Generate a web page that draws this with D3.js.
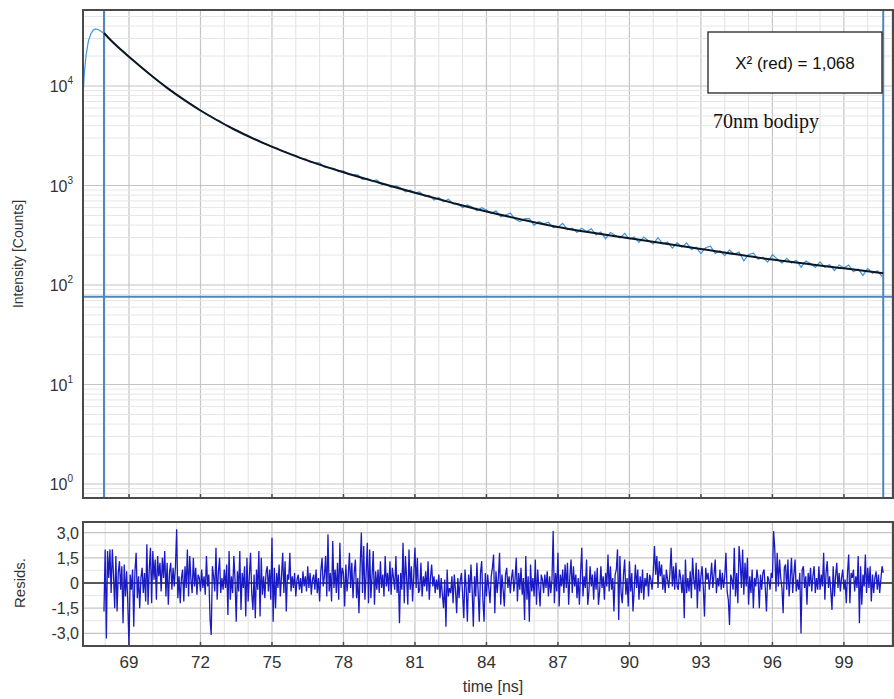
<!DOCTYPE html>
<html>
<head>
<meta charset="utf-8">
<script src="https://cdn.jsdelivr.net/npm/d3@7"></script>
<style>
  body { margin: 0; background: #fff; }
  svg { display: block; }
  text { font-family: "Liberation Sans", Arial, sans-serif; fill: #333; }
</style>
</head>
<body>
<div id="chart"></div>
<script>
// ---- data ----
// fitted decay (black line), knots in ns / counts
const fitTimes  = [67.95, 68.3, 69.17, 70.0, 70.6, 71.3, 72.0, 73.36, 74.79, 76.18, 78.0, 79.5, 81.0, 82.5, 84.0, 87.0, 90.0, 93.0, 96.0, 99.0, 100.65];
const fitCounts = [34120, 27890, 18135, 12375, 9583, 7288, 5675, 3719, 2572, 1897, 1357, 1065, 845, 677, 549, 383, 295, 230, 180, 147, 131];

// measured curve (light blue): rising edge
const riseTimes  = [67.07, 67.12, 67.2, 67.3, 67.4, 67.5, 67.6, 67.7, 67.8, 67.9];
const riseCounts = [7700, 13000, 20500, 28500, 33500, 36500, 37500, 37000, 35800, 34500];
// measured curve: decay channels, every 0.2 ns from 68.0 ns
const decayStart = 68.0, decayStep = 0.2;
const decayCounts = [
  33300, 29400, 26800, 23900, 22000, 19700, 18100, 16300, 15000, 13500,
  12450, 11300, 10480, 9520, 8870, 8160, 7640, 7020, 6610, 6080,
  5720, 5300, 5030, 4660, 4460, 4130, 3930, 3660, 3520, 3290,
  3180, 2970, 2870, 2680, 2590, 2440, 2380, 2230, 2170, 2050,
  2010, 1870, 1850, 1720, 1700, 1690, 1530, 1500, 1490, 1380,
  1400, 1290, 1280, 1280, 1155, 1176, 1105, 1135, 1028, 1027,
  956, 995, 946, 863, 897, 837, 862, 781, 797, 713,
  758, 687, 729, 655, 657, 599, 639, 609, 557, 598,
  568, 522, 557, 484, 502, 529, 460, 435, 462, 465,
  397, 435, 412, 427, 378, 381, 416, 361, 372, 337,
  371, 344, 368, 318, 340, 292, 337, 316, 296, 330,
  288, 304, 268, 303, 278, 259, 299, 259, 270, 235,
  266, 240, 265, 228, 239, 207, 237, 245, 208, 221,
  197, 225, 203, 214, 175, 203, 209, 181, 190, 170,
  202, 183, 166, 185, 166, 177, 151, 174, 164, 150,
  171, 151, 160, 140, 159, 148, 159, 136, 145, 125,
  147, 131, 139, 122
];

// weighted residuals, every 0.05 ns from 67.95 ns
const residStart = 67.95, residStep = 0.05;
const resids = [
  -1.7, 2.0, -3.3, 1.9, 0.3, 2.0, -0.6, 2.0, 0.5, -1.5,
  1.6, -1.7, 0.6, 1.3, -0.4, 1.0, -2.4, 1.1, -0.8, 0.7,
  -1.2, -3.8, 0.5, -0.4, 0.8, -2.6, 0.7, 1.8, -0.9, 0.4,
  -1.5, 0.3, 0.9, -0.6, 0.6, -1.1, 2.3, -1.3, 0.8, 2.1,
  -1.2, 1.9, 0.2, 1.4, -1.0, 1.6, 0.4, 1.2, -0.5, 1.5,
  0.3, 1.9, -0.8, 1.2, -1.3, 0.6, 1.2, -0.4, 0.9, -0.2,
  1.0, 3.2, -0.9, 0.4, -1.2, 0.3, 0.8, -1.1, 1.0, -0.3,
  2.0, -0.8, 1.6, 0.2, -0.6, 1.5, -0.2, 0.9, -0.7, 0.5,
  0.3, -0.5, 0.8, -0.3, 0.4, -0.7, 1.6, -0.2, 0.5, -2.1,
  -3.1, 1.0, 0.4, -0.5, 2.1, -1.0, 0.6, 1.5, -0.6, 0.3,
  -0.4, 0.8, -0.3, 1.1, -1.9, 1.9, -1.0, 0.4, -0.6, 1.6,
  0.2, -2.3, 0.7, -0.5, 1.9, -1.6, 0.6, -0.3, 1.0, -2.0,
  1.5, -1.1, 0.4, 1.8, -0.6, -1.6, 0.5, -2.1, 0.8, -0.4,
  1.9, -2.0, 1.5, -0.7, 0.4, -0.9, 0.6, 1.0, -0.5, 0.8,
  -1.0, 2.7, -2.3, 0.9, -1.5, 0.6, -0.3, 1.1, -0.8, 0.4,
  1.8, -0.6, 1.3, -1.7, 0.5, 0.2, 1.8, -0.5, 0.4, -0.3,
  0.6, -0.8, 0.2, 0.5, -0.4, 0.3, -0.6, 0.7, -0.2, 0.4,
  -0.5, 1.0, -0.3, 0.6, -0.7, 0.2, 0.5, -0.4, 0.8, -0.6,
  0.3, -1.1, 0.7, 1.5, -0.2, 0.4, 1.6, -0.8, 2.9, -0.5,
  0.6, -1.1, 2.5, -0.3, 0.8, -0.6, 1.2, -1.0, 2.4, -0.3,
  0.9, 0.6, -1.4, 1.1, -0.5, 0.4, 1.8, -0.3, 1.2, -0.9,
  0.6, 1.4, -0.9, 0.3, -1.8, 1.0, 3.0, -0.6, 2.2, -1.0,
  0.5, 2.4, -1.2, 2.0, -0.9, 0.4, 1.9, -1.3, 0.7, -0.4,
  0.8, -0.6, 1.3, -0.3, 0.5, -0.8, 1.6, -0.2, 0.6, -0.5,
  1.3, -0.7, 0.9, 0.3, -0.4, 1.6, -0.6, 0.5, -2.4, 0.6,
  -0.4, 2.4, -1.2, 1.6, 0.3, -1.3, 2.0, -0.4, 1.0, -1.1,
  0.5, 2.1, -0.3, 1.5, -0.6, -0.4, 1.2, -0.8, 0.4, -0.2,
  0.7, -0.5, 1.3, -1.0, 0.3, 1.1, -0.2, 0.4, -0.6, 0.2,
  -0.4, 0.5, -0.9, 0.3, -0.7, -1.5, 0.2, -2.6, 0.8, -0.8,
  -0.3, -0.6, 0.4, -1.2, 0.5, -0.4, -1.8, 0.3, -0.9, 0.1,
  0.6, -0.7, -2.1, 0.8, -0.3, -2.3, 0.5, -0.6, 1.1, -0.4,
  -2.6, 0.4, -0.8, 1.2, -0.5, -2.3, 0.6, 1.3, -1.0, -2.3,
  0.6, -0.8, 0.5, -0.3, -1.2, 0.4, 0.9, 1.7, -1.8, 0.7,
  -0.6, 0.3, 1.8, -1.3, 0.5, -0.4, -1.4, 0.5, 0.9, -0.3,
  0.4, -0.6, 0.3, 0.8, -0.5, 0.2, 1.5, -1.1, 0.6, -0.4,
  0.9, -0.7, 0.3, -2.2, 1.6, -1.0, 0.4, -2.3, 1.1, -0.5,
  0.3, -0.8, 1.4, -1.3, 0.8, -0.3, -1.4, 0.5, 0.2, -0.6,
  0.5, -0.3, 0.7, -0.8, 0.4, -0.6, 0.2, 3.1, -1.2, 0.6,
  -0.5, 1.8, -1.4, 0.5, -0.2, 0.8, -0.6, 1.1, -0.3, 1.2,
  -1.3, 0.4, 1.4, -0.6, 1.0, -0.2, 0.5, -0.9, 0.3, -1.3,
  0.6, 2.1, -0.8, 0.4, -0.3, 1.4, -1.3, -0.5, 1.0, -0.2,
  0.5, -1.0, 0.7, -0.4, 0.9, -1.3, -0.5, 1.0, -0.3, 0.4,
  -1.0, 0.6, -0.2, 1.7, -0.5, 1.0, -0.4, 0.3, -1.7, 0.5,
  0.8, 2.0, -2.2, 1.6, -0.6, -1.2, 0.5, 1.4, -0.7, 0.3,
  -1.4, 1.3, -0.5, 0.6, -1.7, -0.4, 1.1, -0.3, 0.8, -1.0,
  0.4, -0.6, 0.8, -1.0, 0.3, -0.2, 0.6, -0.8, 0.5, 0.2,
  -0.4, 0.7, 2.2, 0.5, 1.6, -0.3, 1.3, 0.4, 1.1, -0.4,
  0.5, -0.6, 0.8, 0.2, -0.3, 0.6, 2.1, -0.2, 1.0, -0.4,
  1.2, -0.2, -0.4, 0.8, 0.3, -0.6, 0.5, -2.1, 1.4, -0.6,
  0.3, -0.5, 0.7, -0.9, 1.5, 0.2, -0.4, 1.2, -1.5, 0.8,
  -0.5, 0.4, 1.0, -0.3, -2.0, 0.9, 0.2, 0.6, -0.4, 0.3,
  1.2, -0.3, 0.5, 1.4, -0.6, 0.3, -0.2, 0.8, -0.4, 0.6,
  -0.3, 0.4, 1.8, -0.5, -1.0, -2.5, 0.5, 0.2, -0.4, 2.1,
  -0.8, 0.6, -1.2, 2.2, 1.2, -0.3, 2.0, -0.7, 1.2, -0.2,
  1.5, -1.3, 0.4, -0.6, 0.8, -1.5, 0.3, -0.2, 0.8, 0.2,
  -1.5, 0.5, -0.4, 0.6, 0.8, -0.3, -1.7, 0.4, 0.2, -0.4,
  0.6, 0.3, 3.1, 2.0, -0.5, 1.8, -0.2, 1.4, 0.3, -0.3,
  -1.8, 0.9, 1.1, -0.4, 1.4, -0.8, 0.3, 1.5, -0.6, 0.5,
  1.4, -0.5, 0.2, -0.4, 0.6, -3.0, 0.8, 1.0, -0.3, 0.4,
  -1.3, 0.6, -0.2, 0.9, -0.5, 0.4, 1.0, -0.6, 0.3, -0.4,
  1.0, -0.4, 0.5, -0.2, 1.8, -1.0, 0.6, 1.3, -0.3, 0.4,
  -0.5, -1.6, 1.0, -0.8, 0.4, 1.2, -0.3, 0.6, -0.5, 0.3,
  0.8, -0.4, 0.2, -1.2, 0.6, 1.7, -1.2, 0.6, 0.3, 0.8,
  -0.5, 0.4, -0.3, 1.6, -2.4, 1.0, -1.3, 0.5, -0.2, 1.7,
  -0.6, 0.9, -0.3, 1.0, -1.1, 0.5, -0.6, 0.3, 0.7, -0.4,
  0.5, -0.6, 0.2, 1.0, 0.6
];

const xTicks = [69, 72, 75, 78, 81, 84, 87, 90, 93, 96, 99];
const decadeExps = [0, 1, 2, 3, 4];
const residTicks = [-3, -1.5, 0, 1.5, 3];
const cursorTimes = [67.95, 100.65];
const cursorLevel = 76;
const chiLabel = "X\u00b2 (red) = 1,068";
const sampleLabel = "70nm bodipy";

// ---- layout ----
const width = 894, height = 699;
const mainP = {x0: 83, x1: 893, y0: 10, y1: 498};
const resP = {y0: 522, y1: 646};

const svg = d3.select("#chart").append("svg")
    .attr("width", width)
    .attr("height", height);

let x = d3.scaleLinear().domain([67.07, 101.06]).range([mainP.x0, mainP.x1]);
let yLog = d3.scaleLog().domain([0.7234, 58050]).range([mainP.y1, mainP.y0]);
let yRes = d3.scaleLinear().domain([-3.75, 3.631]).range([resP.y1, resP.y0]);

let defs = svg.append("defs");
defs.append("clipPath").attr("id", "clipTop").append("rect")
    .attr("x", mainP.x0).attr("y", mainP.y0)
    .attr("width", mainP.x1 - mainP.x0).attr("height", mainP.y1 - mainP.y0);
defs.append("clipPath").attr("id", "clipBot").append("rect")
    .attr("x", mainP.x0).attr("y", resP.y0)
    .attr("width", mainP.x1 - mainP.x0).attr("height", resP.y1 - resP.y0);

// vertical grid (1 ns minor, 3 ns major) in both panels
let minorX = d3.range(68, 102).filter(d => xTicks.indexOf(d) < 0);
[[mainP.y0, mainP.y1], [resP.y0, resP.y1]].forEach(function(p) {
    svg.append("g").selectAll("line").data(minorX).enter().append("line")
        .attr("x1", d => x(d)).attr("x2", d => x(d))
        .attr("y1", p[0]).attr("y2", p[1])
        .attr("stroke", "#e2e2e2").attr("stroke-width", 1);
    svg.append("g").selectAll("line").data(xTicks).enter().append("line")
        .attr("x1", d => x(d)).attr("x2", d => x(d))
        .attr("y1", p[0]).attr("y2", p[1])
        .attr("stroke", "#c4c4c4").attr("stroke-width", 1.2);
});

// horizontal log grid
let minorY = [];
[-1, 0, 1, 2, 3, 4].forEach(function(e) {
    d3.range(2, 10).forEach(function(m) {
        let v = m * Math.pow(10, e);
        if (v > yLog.domain()[0] && v < yLog.domain()[1]) minorY.push(v);
    });
});
svg.append("g").selectAll("line").data(minorY).enter().append("line")
    .attr("x1", mainP.x0).attr("x2", mainP.x1)
    .attr("y1", d => yLog(d)).attr("y2", d => yLog(d))
    .attr("stroke", "#e6e6e6").attr("stroke-width", 1);
svg.append("g").selectAll("line").data(decadeExps).enter().append("line")
    .attr("x1", mainP.x0).attr("x2", mainP.x1)
    .attr("y1", d => yLog(Math.pow(10, d))).attr("y2", d => yLog(Math.pow(10, d)))
    .attr("stroke", "#c4c4c4").attr("stroke-width", 1.2);

// residual grid
let residMinor = [-2.25, -0.75, 0.75, 2.25];
svg.append("g").selectAll("line").data(residMinor).enter().append("line")
    .attr("x1", mainP.x0).attr("x2", mainP.x1)
    .attr("y1", d => yRes(d)).attr("y2", d => yRes(d))
    .attr("stroke", "#e6e6e6").attr("stroke-width", 1);
svg.append("g").selectAll("line").data(residTicks.filter(d => d !== 0)).enter().append("line")
    .attr("x1", mainP.x0).attr("x2", mainP.x1)
    .attr("y1", d => yRes(d)).attr("y2", d => yRes(d))
    .attr("stroke", "#c4c4c4").attr("stroke-width", 1.2);

// cursors
let cursorColor = "#4f87b8";
svg.append("g").selectAll("line").data(cursorTimes).enter().append("line")
    .attr("x1", d => x(d)).attr("x2", d => x(d))
    .attr("y1", mainP.y0).attr("y2", mainP.y1)
    .attr("stroke", cursorColor).attr("stroke-width", 2);
svg.append("line")
    .attr("x1", mainP.x0).attr("x2", mainP.x1)
    .attr("y1", yLog(cursorLevel)).attr("y2", yLog(cursorLevel))
    .attr("stroke", cursorColor).attr("stroke-width", 2);

// measured decay
let measured = riseTimes.map((t, i) => [t, riseCounts[i]])
    .concat(decayCounts.map((v, i) => [decayStart + i * decayStep, v]));
let lineTop = d3.line()
    .x(d => x(d[0]))
    .y(d => yLog(d[1]));
svg.append("path")
    .datum(measured)
    .attr("clip-path", "url(#clipTop)")
    .attr("fill", "none")
    .attr("stroke", "#3f95d8")
    .attr("stroke-width", 1.2)
    .attr("d", lineTop);

// fit
let fit = fitTimes.map((t, i) => [t, fitCounts[i]]);
svg.append("path")
    .datum(fit)
    .attr("clip-path", "url(#clipTop)")
    .attr("fill", "none")
    .attr("stroke", "#0d1622")
    .attr("stroke-width", 2)
    .attr("d", lineTop.curve(d3.curveCatmullRom.alpha(0.5)));

// residuals
svg.append("line")
    .attr("x1", mainP.x0).attr("x2", mainP.x1)
    .attr("y1", yRes(0)).attr("y2", yRes(0))
    .attr("stroke", "#222").attr("stroke-width", 1.6);
let residLine = d3.line()
    .x((d, i) => x(residStart + i * residStep))
    .y(d => yRes(d));
svg.append("path")
    .datum(resids)
    .attr("clip-path", "url(#clipBot)")
    .attr("fill", "none")
    .attr("stroke", "#1a1ac4")
    .attr("stroke-width", 1.3)
    .attr("d", residLine);

// frames
[[mainP.y0, mainP.y1], [resP.y0, resP.y1]].forEach(function(p) {
    svg.append("rect")
        .attr("x", mainP.x0).attr("y", p[0])
        .attr("width", mainP.x1 - mainP.x0).attr("height", p[1] - p[0])
        .attr("fill", "none").attr("stroke", "#4a4a4a").attr("stroke-width", 2);
    svg.append("g").selectAll("line").data(xTicks).enter().append("line")
        .attr("x1", d => x(d)).attr("x2", d => x(d))
        .attr("y1", p[1]).attr("y2", p[1] - 4)
        .attr("stroke", "#4a4a4a").attr("stroke-width", 1.5);
});

// y tick labels (log)
let yLabels = svg.append("g").selectAll("text").data(decadeExps).enter().append("text")
    .attr("x", 73)
    .attr("y", d => yLog(Math.pow(10, d)) + 6)
    .attr("text-anchor", "end")
    .style("font-size", "16px");
yLabels.append("tspan").text("10");
yLabels.append("tspan").attr("dy", -8).style("font-size", "10px").text(d => d);

// residual tick labels
svg.append("g").selectAll("text").data(residTicks).enter().append("text")
    .attr("x", 79)
    .attr("y", d => yRes(d) + 6)
    .attr("text-anchor", "end")
    .style("font-size", "16px")
    .text(d => d === 0 ? "0" : d.toFixed(1).replace(".", ","));

// x tick labels
svg.append("g").selectAll("text").data(xTicks).enter().append("text")
    .attr("x", d => x(d))
    .attr("y", 668)
    .attr("text-anchor", "middle")
    .style("font-size", "17px")
    .text(d => d);

// axis titles
svg.append("text")
    .attr("transform", `translate(23, ${(mainP.y0 + mainP.y1) / 2}) rotate(-90)`)
    .attr("text-anchor", "middle")
    .style("font-size", "14px")
    .text("Intensity [Counts]");
svg.append("text")
    .attr("transform", `translate(25, ${yRes(0)}) rotate(-90)`)
    .attr("text-anchor", "middle")
    .style("font-size", "15px")
    .text("Resids.");
svg.append("text")
    .attr("x", 493)
    .attr("y", 692)
    .attr("text-anchor", "middle")
    .style("font-size", "16px")
    .text("time [ns]");

// chi box
svg.append("rect")
    .attr("x", 708).attr("y", 32)
    .attr("width", 174).attr("height", 61)
    .attr("fill", "#fff").attr("stroke", "#222").attr("stroke-width", 1.3);
svg.append("text")
    .attr("x", 795).attr("y", 69)
    .attr("text-anchor", "middle")
    .style("font-size", "17px")
    .style("fill", "#111")
    .text(chiLabel);
svg.append("text")
    .attr("x", 713).attr("y", 128)
    .style("font-family", "'Liberation Serif', 'Times New Roman', serif")
    .style("font-size", "20px")
    .style("fill", "#111")
    .text(sampleLabel);
</script>
</body>
</html>
